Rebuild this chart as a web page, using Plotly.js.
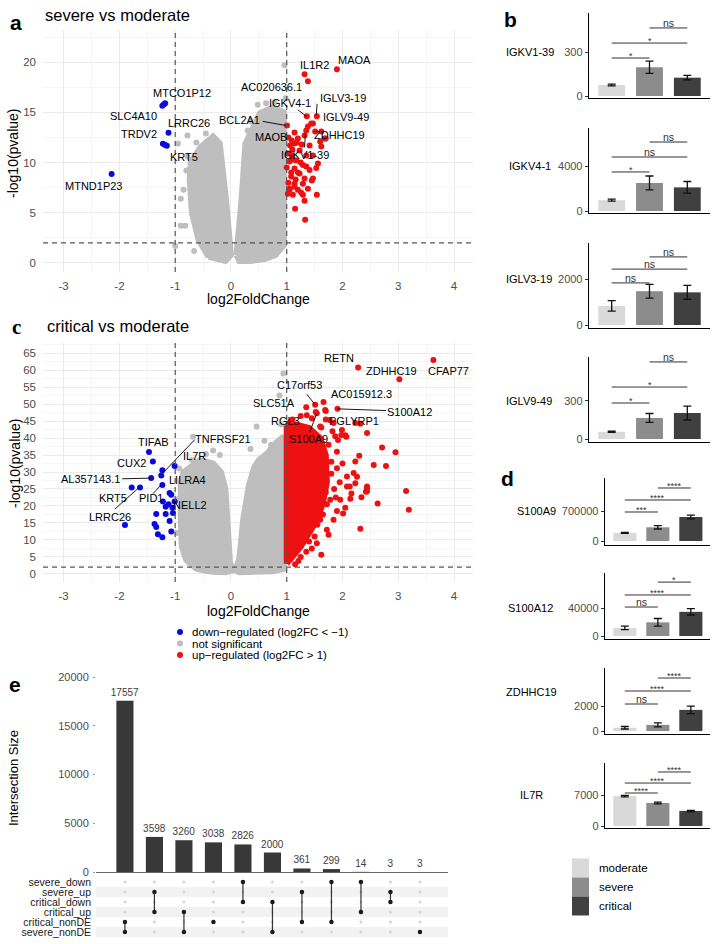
<!DOCTYPE html>
<html>
<head>
<meta charset="utf-8">
<script src="https://cdn.plot.ly/plotly-3.0.1.min.js"></script>
<style>
  html, body { margin: 0; padding: 0; background: #fff; }
  #chart { width: 718px; height: 944px; }
</style>
</head>
<body>
<div id="chart"></div>
<script>
// ---------- panel a : severe vs moderate ----------
const aGreyLeftX = [-0.4, -0.58, -0.7, -0.74, -0.72, -0.55, -0.32, -0.2, -0.09, -0.04, 0.0, -0.1, -0.4];
const aGreyLeftY = [0.6, 2.3, 5.0, 8.3, 10.0, 11.5, 12.6, 11.9, 6.3, 3.3, 0.8, 0.2, 0.6];
const aGreyRightX = [0.1, 0.15, 0.19, 0.26, 0.4, 0.52, 0.75, 0.95, 0.95, 0.8, 0.6, 0.35, 0.15, 0.1];
const aGreyRightY = [0.8, 3.3, 6.3, 11.9, 13.6, 14.9, 15.5, 15.0, 1.8, 0.8, 0.4, 0.2, 0.2, 0.8];
const aGreyX = [0.96, 0.48, 0.63, 0.78, 0.93, -0.78, -0.95, -0.85, -0.9, -0.9, -0.82, -1.0, -0.62,
  -0.78, -0.8, -0.66, 0.3, 0.36, 0.98, -0.45, 0.55];
const aGreyY = [19.7, 15.75, 15.9, 16.0, 15.0, 12.7, 11.9, 7.3, 6.4, 3.7, 3.7, 1.7, 12.0,
  10.6, 9.2, 1.2, 13.2, 14.1, 16.4, 12.9, 0.6];
const aDownX = [-1.23, -1.2, -1.18, -1.12, -1.22, -1.15, -1.18, -2.14];
const aDownY = [15.65, 15.8, 15.9, 12.97, 11.87, 11.67, 11.75, 8.86];
const aUpX = [1.90, 1.32, 1.38, 1.36, 1.54, 1.005, 1.44, 1.35, 1.51, 1.68, 1.14, 1.20, 1.09, 1.32, 1.60,
  1.41, 1.06, 1.23, 1.09, 1.35, 1.17, 1.47, 1.05, 1.29, 1.56, 1.14, 1.41, 1.23, 1.08, 1.32, 1.47, 1.14,
  1.29, 1.05, 1.20, 1.38, 1.54, 1.11, 1.29, 1.32, 1.15, 1.33, 1.45, 1.62, 1.38, 1.62, 1.47, 1.53, 1.26,
  1.14, 1.05, 1.08, 1.11, 1.02, 1.14, 1.70, 1.03, 1.18, 1.25, 1.0, 1.2, 1.03, 1.16, 1.35, 1.27, 1.1, 1.02];
const aUpY = [19.3, 18.8, 18.1, 14.6, 14.6, 13.7, 13.9, 13.2, 13.1, 12.4, 13.0, 12.4, 12.2, 12.7, 12.1,
  11.7, 11.7, 11.2, 10.7, 10.7, 10.2, 10.7, 10.1, 9.75, 9.9, 9.4, 9.25, 8.9, 8.6, 8.4, 8.4, 7.9,
  7.9, 7.4, 7.3, 7.4, 6.8, 6.8, 6.8, 6.2, 5.4, 4.3, 8.2, 11.6, 13.6, 13.1, 13.9, 9.45, 7.0,
  7.6, 7.3, 9.0, 10.3, 10.9, 11.9, 12.4, 12.5, 12.0, 10.0, 9.5, 9.0, 8.0, 8.3, 9.6, 11.8, 11.3, 6.9];
const aLabelText = ['MAOA', 'IL1R2', 'AC020636.1', 'MTCO1P12', 'IGKV4-1', 'IGLV3-19', 'IGLV9-49', 'SLC4A10',
  'LRRC26', 'BCL2A1', 'TRDV2', 'MAOB', 'ZDHHC19', 'IGKV1-39', 'KRT5', 'MTND1P23'];
const aLabelX = [2.22, 1.49, 0.72, -0.87, 1.05, 2.01, 2.07, -1.75, -0.75, 0.15, -1.65, 0.72, 1.95, 1.32, -0.85, -2.47];
const aLabelY = [20.2, 19.7, 17.5, 16.9, 15.9, 16.4, 14.5, 14.6, 13.9, 14.2, 12.8, 12.5, 12.7, 10.8, 10.6, 7.7];
const aLeadX0 = [1.20, 1.545, 0.57, 1.32];
const aLeadY0 = [15.26, 15.85, 14.1, 11.5];
const aLeadX1 = [1.35, 1.53, 1.006, 1.335];
const aLeadY1 = [14.6, 14.76, 13.67, 12.9];

// ---------- panel c : critical vs moderate ----------
const cGreyLeftX = [-0.35, -0.62, -0.8, -0.88, -0.9, -0.9, -0.85, -0.55, -0.32, -0.18, -0.1, -0.05, -0.02, 0.02, -0.1, -0.35];
const cGreyLeftY = [0.6, 1.5, 4, 8, 16, 27, 30, 33.5, 32.5, 30, 25, 11, 4, 1.0, 0.5, 0.6];
const cGreyRightX = [0.08, 0.15, 0.22, 0.32, 0.42, 0.5, 0.65, 0.8, 0.95, 0.95, 0.75, 0.45, 0.15, 0.08];
const cGreyRightY = [1.0, 4.5, 16, 26, 31.5, 33.5, 35.5, 38.5, 40.5, 1.5, 0.8, 0.5, 0.5, 1.0];
const cGreyX = [-0.68, -0.32, -0.45, 0.46, 0.35, 0.94, 0.87, 0.6, -0.2, -0.95, -0.97, -0.93, 0.72, 0.9, -0.7];
const cGreyY = [40.4, 36.3, 35.3, 43.4, 36.8, 59.0, 52.5, 39.2, 35.0, 22.0, 12.0, 31.0, 38.0, 44.0, 33.5];
const cCoreX = [1.0, 1.0, 1.15, 1.4, 1.6, 1.7, 1.72, 1.65, 1.55, 1.4, 1.25, 1.1, 1.0];
const cCoreY = [3, 43, 44, 43, 40, 35, 27, 21, 16, 12, 8, 5, 3];
const cUpX = [3.63, 2.28, 3.02, 1.51, 1.66, 1.35, 1.91, 1.69, 1.54, 1.36, 2.23, 2.32, 2.44, 2.71, 2.95, 2.56,
  2.78, 2.23, 2.30, 2.44, 2.44, 2.34, 3.14, 3.19, 2.63, 2.32, 2.01, 1.54, 1.62, 1.21, 2.14, 1.96, 2.08,
  1.84, 1.72, 1.60, 1.87, 2.05, 1.99, 1.60, 1.84, 2.20, 2.08, 1.90, 2.23, 1.78, 1.60, 1.48, 2.07, 1.98,
  1.77, 1.62, 1.92, 2.13, 2.44, 2.42, 2.16, 2.26, 1.52, 1.70,
  1.75, 1.90, 1.80, 2.00, 1.95, 1.85, 1.70, 2.05, 1.90, 1.65, 1.75, 1.50, 1.45, 1.35, 1.25, 1.68, 1.72,
  1.55, 1.82, 1.70, 1.45, 1.25, 1.10, 1.05, 1.80, 1.62, 1.88, 1.40, 1.30, 1.15];
const cUpY = [63.0, 60.8, 57.3, 49.8, 50.6, 49.1, 48.6, 48.3, 47.3, 46.7, 44.4, 44.2, 41.5, 37.2, 35.8, 32.1,
  31.8, 33.1, 34.8, 25.2, 24.3, 22.6, 24.4, 18.9, 20.7, 13.3, 17.8, 9.0, 5.6, 3.8, 22.1, 21.8, 25.7,
  15.9, 13.0, 15.9, 40.5, 40.8, 42.4, 43.4, 44.4, 29.7, 28.7, 31.1, 26.7, 21.8, 19.4, 16.9, 40.4, 40.9,
  45.3, 43.1, 39.4, 25.7, 25.7, 24.2, 23.7, 28.6, 47.7, 48.0,
  38.0, 36.0, 33.0, 32.5, 27.0, 25.0, 24.0, 19.5, 18.5, 17.5, 11.5, 11.0, 7.5, 6.5, 5.0, 30.0, 20.5,
  14.5, 42.0, 45.5, 45.8, 46.5, 45.5, 44.5, 29.5, 36.5, 22.5, 9.5, 10.5, 2.8];
const cDownX = [-1.47, -1.40, -1.43, -1.63, -1.78, -1.90, -1.23, -1.25, -1.23, -1.01, -1.10, -1.07, -1.01,
  -1.22, -1.17, -1.34, -1.17, -1.04, -1.37, -1.34, -1.10, -1.31, -1.23, -1.07, -1.12, -1.05];
const cDownY = [35.9, 33.1, 28.2, 25.4, 25.4, 14.4, 30.5, 29.0, 26.2, 31.8, 23.8, 23.3, 21.3,
  21.3, 19.8, 17.6, 17.6, 17.9, 14.7, 13.8, 15.6, 11.7, 10.8, 12.5, 20.5, 19.5];
const cLabelText = ['RETN', 'ZDHHC19', 'CFAP77', 'C17orf53', 'AC015912.3', 'SLC51A', 'S100A12', 'RGL3', 'PGLYRP1',
  'S100A9', 'TIFAB', 'CUX2', 'TNFRSF21', 'IL7R', 'AL357143.1', 'LILRA4', 'KRT5', 'PID1', 'NELL2', 'LRRC26'];
const cLabelX = [1.93, 2.87, 3.90, 1.23, 2.34, 0.78, 3.20, 0.97, 2.20, 1.39, -1.38, -1.78, -0.14, -0.66, -2.52,
  -0.78, -2.11, -1.44, -0.74, -2.17];
const cLabelY = [63.7, 59.9, 59.9, 55.7, 52.9, 50.3, 47.8, 44.9, 44.9, 39.7, 38.8, 32.8, 39.7, 34.6, 27.9,
  27.5, 22.3, 22.2, 20.3, 16.7];
const cLeadX0 = [1.36, 2.78, 1.41, -1.95, -2.08, -0.65, -1.40];
const cLeadY0 = [52.9, 48.1, 41.7, 28.0, 19.1, 39.5, 23.6];
const cLeadX1 = [1.51, 1.91, 1.54, -1.44, -1.65, -1.21, -1.24];
const cLeadY1 = [49.8, 48.6, 47.3, 28.2, 25.4, 29.9, 26.4];

const volcTickVals = [-3, -2, -1, 0, 1, 2, 3, 4];
const volcTickText = ['-3', '-2', '-1', '0', '1', '2', '3', '4'];
const volcLegend = ['down\u2212regulated (log2FC < \u22121)', 'not significant', 'up\u2212regulated (log2FC > 1)'];

// ---------- panels b and d : bar charts ----------
const barGroups = ['moderate', 'severe', 'critical'];
const geneNames = ['IGKV1-39', 'IGKV4-1', 'IGLV3-19', 'IGLV9-49', 'S100A9', 'S100A12', 'ZDHHC19', 'IL7R'];
const geneTick = [300, 4000, 2000, 300, 700000, 40000, 2000, 7000];
const meanModerate = [75, 960, 830, 57, 190000, 11500, 260, 6750];
const meanSevere = [196, 2490, 1470, 166, 320000, 19500, 490, 5200];
const meanCritical = [125, 2100, 1420, 205, 560000, 34500, 1690, 3400];
const semModerate = [6, 90, 230, 5, 10000, 2500, 100, 180];
const semSevere = [42, 620, 300, 35, 40000, 5500, 160, 200];
const semCritical = [15, 520, 300, 55, 45000, 4500, 300, 150];
const bracketModSev = [259, 3470, 1830, 284, 677000, 41400, 2160, 7450];
const bracketModCrit = [361, 4800, 2430, 410, 957000, 58600, 3200, 9700];
const bracketSevCrit = [464, 6130, 2960, 608, 1237000, 77000, 4240, 12200];
const labelModSev = ['*', '*', 'ns', '*', '***', 'ns', 'ns', '****'];
const labelModCrit = ['*', 'ns', 'ns', '*', '****', '****', '****', '****'];
const labelSevCrit = ['ns', 'ns', 'ns', 'ns', '****', '*', '****', '****'];

// ---------- panel e : upset ----------
const upsetSets = ['severe_down', 'severe_up', 'critical_down', 'critical_up', 'critical_nonDE', 'severe_nonDE'];
const upsetSizes = [17557, 3598, 3260, 3038, 2826, 2000, 361, 299, 14, 3, 3];
const upsetCombos = [
  ['critical_nonDE', 'severe_nonDE'],
  ['severe_up', 'critical_up'],
  ['critical_up', 'severe_nonDE'],
  ['critical_nonDE'],
  ['severe_down', 'critical_down'],
  ['critical_down', 'severe_nonDE'],
  ['severe_up', 'critical_nonDE'],
  ['severe_down', 'critical_nonDE'],
  ['severe_down', 'critical_up'],
  ['severe_up', 'critical_down'],
  ['severe_nonDE'],
];

// ---------- helpers ----------
const FONT = 'Liberation Sans, Arial, Helvetica, sans-serif';
const W = 718, H = 944;
const px = (v) => v / W;
const py = (v) => 1 - v / H;
const GREY = '#bebebe', RED = '#ee1111', BLUE = '#0a0ae0';
const barColors = ['#d9d9d9', '#8c8c8c', '#404040'];

const traces = [];
const annotations = [];
const shapes = [];

function addText(text, x, y, size, opts = {}) {
  annotations.push(Object.assign({
    text, x: px(x), y: py(y), xref: 'paper', yref: 'paper', showarrow: false,
    font: { size, color: '#000' }, xanchor: 'center', yanchor: 'middle',
  }, opts));
}

function volcano(s, greyPolys, greyX, greyY, core, upX, upY, downX, downY, lab, lead) {
  const ax = { xaxis: 'x' + s, yaxis: 'y' + s, hoverinfo: 'skip' };
  greyPolys.forEach(([x, y]) => {
    traces.push({ ...ax, type: 'scatter', mode: 'lines', x, y, fill: 'toself', fillcolor: GREY,
      line: { color: GREY, width: 6 } });
  });
  traces.push({ ...ax, type: 'scatter', mode: 'markers', x: greyX, y: greyY, marker: { color: GREY, size: 6 } });
  if (core) {
    traces.push({ ...ax, type: 'scatter', mode: 'lines', x: core[0], y: core[1], fill: 'toself', fillcolor: RED,
      line: { color: RED, width: 6 } });
  }
  traces.push({ ...ax, type: 'scatter', mode: 'markers', x: upX, y: upY, marker: { color: RED, size: 6 } });
  traces.push({ ...ax, type: 'scatter', mode: 'markers', x: downX, y: downY, marker: { color: BLUE, size: 6 } });
  // leader lines
  const lx = [], ly = [];
  lead[0].forEach((x0, i) => {
    lx.push(x0, lead[2][i], null);
    ly.push(lead[1][i], lead[3][i], null);
  });
  traces.push({ ...ax, type: 'scatter', mode: 'lines', x: lx, y: ly, line: { color: '#000', width: 0.9 } });
  lab[0].forEach((t, i) => {
    annotations.push({ text: t, x: lab[1][i], y: lab[2][i], xref: 'x' + s, yref: 'y' + s, showarrow: false,
      font: { size: 11, color: '#000' } });
  });
  // dashed cut-offs
  [-1, 1].forEach((v) => shapes.push({ type: 'line', xref: 'x' + s, yref: 'y' + s + ' domain', x0: v, x1: v, y0: 0, y1: 1,
    line: { color: '#555', width: 1.2, dash: '5px,4px' } }));
  shapes.push({ type: 'line', xref: 'x' + s + ' domain', yref: 'y' + s, x0: 0, x1: 1, y0: 2, y1: 2,
    line: { color: '#555', width: 1.2, dash: '5px,4px' } });
}

function volcAxes(top, bottom, yRange, yAnchor, xAnchor) {
  const x = {
    domain: [px(43), px(473)], range: [-3.37, 4.34], anchor: yAnchor,
    tickvals: volcTickVals, ticktext: volcTickText, ticks: '', ticklabelstandoff: 5,
    tickfont: { size: 11.5, color: '#4d4d4d' }, showgrid: true, gridcolor: '#ebebeb', gridwidth: 1,
    minor: { tick0: 0, dtick: 0.5, showgrid: true, gridcolor: '#f5f5f5', gridwidth: 1 },
    zeroline: false, showline: false,
  };
  const y = {
    domain: [py(bottom), py(top)], range: yRange, anchor: xAnchor, tick0: 0, dtick: 5, ticks: '',
    ticklabelstandoff: 6, tickfont: { size: 11.5, color: '#4d4d4d' }, showgrid: true, gridcolor: '#ebebeb',
    minor: { tick0: 0, dtick: 2.5, showgrid: true, gridcolor: '#f5f5f5' }, zeroline: false, showline: false,
  };
  return [x, y];
}

const layout = {
  width: W, height: H, margin: { l: 0, r: 0, t: 0, b: 0 },
  paper_bgcolor: '#fff', plot_bgcolor: 'rgba(0,0,0,0)',
  font: { family: FONT, color: '#000' }, showlegend: false,
  annotations, shapes,
};

// panel a
volcano('', [[aGreyLeftX, aGreyLeftY], [aGreyRightX, aGreyRightY]], aGreyX, aGreyY, null,
  aUpX, aUpY, aDownX, aDownY, [aLabelText, aLabelX, aLabelY], [aLeadX0, aLeadY0, aLeadX1, aLeadY1]);
[layout.xaxis, layout.yaxis] = volcAxes(30, 272, [-0.9, 23.2], 'y', 'x');

// panel c
volcano('2', [[cGreyLeftX, cGreyLeftY], [cGreyRightX, cGreyRightY]], cGreyX, cGreyY, [cCoreX, cCoreY],
  cUpX, cUpY, cDownX, cDownY, [cLabelText, cLabelX, cLabelY], [cLeadX0, cLeadY0, cLeadX1, cLeadY1]);
[layout.xaxis2, layout.yaxis2] = volcAxes(343, 582, [-2.4, 68], 'y2', 'x2');

addText('a', 16, 22, 21, { font: { size: 21, color: '#000', weight: 'bold' } });
addText('severe vs moderate', 43, 15, 16.5, { xanchor: 'left' });
addText('log2FoldChange', 258, 299, 14);
addText('-log10(pvalue)', 13, 153, 14, { textangle: -90 });
addText('c', 16, 327, 21, { font: { size: 21, color: '#000', family: 'Liberation Serif, serif', weight: 'bold' } });
addText('critical vs moderate', 45, 326, 16.5, { xanchor: 'left' });
addText('log2FoldChange', 258, 611, 14);
addText('-log10(pvalue)', 15, 463, 14, { textangle: -90 });

// volcano legend
[BLUE, GREY, RED].forEach((col, i) => {
  const yy = 632 + i * 11.5;
  shapes.push({ type: 'circle', xref: 'paper', yref: 'paper', xsizemode: 'pixel', ysizemode: 'pixel',
    xanchor: px(180), yanchor: py(yy), x0: -3, x1: 3, y0: -3, y1: 3, fillcolor: col, line: { width: 0 } });
  addText(volcLegend[i], 190, yy, 11.5, { xanchor: 'left' });
});

// panels b and d
const geneTopPx = [13, 128, 243, 357, 478, 573, 668, 763];
const geneBotPx = [98, 213, 328, 442, 545, 639, 734, 828];
const geneRange = [[-13.6, 566], [-178, 7378], [-130, 3565], [-23.7, 647],
  [-93333, 1470000], [-4286, 90000], [-240, 5040], [-452, 14226]];
const geneLabelPx = [[530, 52], [530, 166], [529, 279], [529, 401], [536, 511], [530, 608], [531, 692], [531, 795]];
const groupIdx = barGroups.map((g, i) => i);

geneNames.forEach((gene, k) => {
  const n = k + 5;
  const inB = k < 4;
  layout['xaxis' + n] = {
    domain: inB ? [px(589), px(710)] : [px(605), px(710)], range: inB ? [-0.6, 2.6] : [-0.6, 2.58],
    anchor: 'y' + n, showline: true, linecolor: '#000', linewidth: 1.3, showticklabels: false, ticks: '',
    showgrid: false, zeroline: false,
  };
  layout['yaxis' + n] = {
    domain: [py(geneBotPx[k]), py(geneTopPx[k])], range: geneRange[k], anchor: 'x' + n,
    showline: true, linecolor: '#000', linewidth: 1.3, tickvals: [0, geneTick[k]], tickformat: 'd',
    ticks: 'outside', ticklen: 3, tickcolor: '#333', tickfont: { size: 11, color: '#4d4d4d' },
    showgrid: false, zeroline: false,
  };
  const xa = 'x' + n, ya = 'y' + n;
  traces.push({
    type: 'bar', xaxis: xa, yaxis: ya, x: groupIdx, width: inB ? 0.71 : 0.7,
    y: [meanModerate[k], meanSevere[k], meanCritical[k]],
    marker: { color: barColors, line: { width: 0 } },
    error_y: { type: 'data', array: [semModerate[k], semSevere[k], semCritical[k]], visible: true,
      color: '#111', thickness: 1.3, width: 4 },
    hoverinfo: 'skip',
  });
  const br = [[0, 1, bracketModSev[k], labelModSev[k]], [0, 2, bracketModCrit[k], labelModCrit[k]],
    [1, 2, bracketSevCrit[k], labelSevCrit[k]]];
  const bx = [], by = [];
  br.forEach(([a, b, h, t]) => {
    bx.push(a, b, null);
    by.push(h, h, null);
    annotations.push({ text: t, x: (a + b) / 2, y: h, xref: xa, yref: ya, showarrow: false,
      yanchor: 'bottom', yshift: t === 'ns' ? -3 : -5, font: { size: t === 'ns' ? 10.5 : 9, color: '#333' } });
  });
  traces.push({ type: 'scatter', mode: 'lines', xaxis: xa, yaxis: ya, x: bx, y: by,
    line: { color: '#333', width: 1 }, hoverinfo: 'skip' });
  addText(gene, geneLabelPx[k][0], geneLabelPx[k][1], 11);
});

addText('b', 510, 19, 21, { font: { size: 21, color: '#000', weight: 'bold' } });
addText('d', 507, 478, 21, { font: { size: 21, color: '#000', weight: 'bold' } });

// bar legend
barGroups.forEach((g, i) => {
  const yc = 868 + i * 19;
  shapes.push({ type: 'rect', xref: 'paper', yref: 'paper', x0: px(572), x1: px(589),
    y0: py(yc + 9.5), y1: py(yc - 9.5), fillcolor: barColors[i], line: { width: 0 } });
  addText(g, 597, yc, 11.5, { xanchor: 'left' });
});

// panel e: intersection bars
const colIdx = upsetSizes.map((v, i) => i);
layout.xaxis3 = {
  domain: [px(96), px(448)], range: [-0.98, 10.95], anchor: 'y3', showticklabels: false, ticks: '',
  showgrid: false, zeroline: false, showline: true, linecolor: '#666', linewidth: 1,
};
layout.yaxis3 = {
  domain: [py(872), py(672)], range: [0, 20513], anchor: 'x3', tick0: 0, dtick: 5000, tickformat: 'd',
  ticks: 'outside', ticklen: 2, tickcolor: '#999', tickfont: { size: 11, color: '#4d4d4d' }, ticklabelstandoff: 2,
  showgrid: false, zeroline: false, showline: false,
};
traces.push({
  type: 'bar', xaxis: 'x3', yaxis: 'y3', x: colIdx, y: upsetSizes, width: 0.58,
  marker: { color: '#383838' }, text: upsetSizes.map(String), textposition: 'outside', constraintext: 'none',
  textfont: { size: 10, color: '#404040' }, cliponaxis: false, hoverinfo: 'skip',
});

// panel e: matrix
layout.xaxis4 = {
  domain: [px(96), px(448)], range: [-0.98, 10.95], anchor: 'y4', visible: false,
};
layout.yaxis4 = {
  domain: [py(937), py(877)], range: [5.5, -0.5], anchor: 'x4', tickvals: upsetSets.map((s, i) => i),
  ticktext: upsetSets, ticks: '', tickfont: { size: 10.5, color: '#1a1a1a' }, ticklabelstandoff: 4,
  showgrid: false, zeroline: false, showline: false,
};
upsetSets.forEach((s, i) => {
  if (i % 2 === 1) {
    shapes.push({ type: 'rect', xref: 'x4 domain', yref: 'y4', x0: 0, x1: 1, y0: i - 0.5, y1: i + 0.5,
      fillcolor: '#f2f2f2', line: { width: 0 }, layer: 'below' });
  }
});
const gx = [], gy = [];
colIdx.forEach((c) => upsetSets.forEach((s, r) => { gx.push(c); gy.push(r); }));
traces.push({ type: 'scatter', mode: 'markers', xaxis: 'x4', yaxis: 'y4', x: gx, y: gy,
  marker: { color: '#d6d6d6', size: 3 }, hoverinfo: 'skip' });
const mx = [], my = [];
upsetCombos.forEach((combo, c) => {
  combo.forEach((s) => { mx.push(c); my.push(upsetSets.indexOf(s)); });
  mx.push(null); my.push(null);
});
traces.push({ type: 'scatter', mode: 'lines+markers', xaxis: 'x4', yaxis: 'y4', x: mx, y: my,
  marker: { color: '#1a1a1a', size: 4.5 }, line: { color: '#333', width: 1.2 }, hoverinfo: 'skip' });

addText('e', 15, 684, 21, { font: { size: 21, color: '#000', weight: 'bold' } });
addText('Intersection Size', 13, 778, 13, { textangle: -90 });

Plotly.newPlot('chart', traces, layout, { displayModeBar: false, staticPlot: true });
</script>
</body>
</html>
